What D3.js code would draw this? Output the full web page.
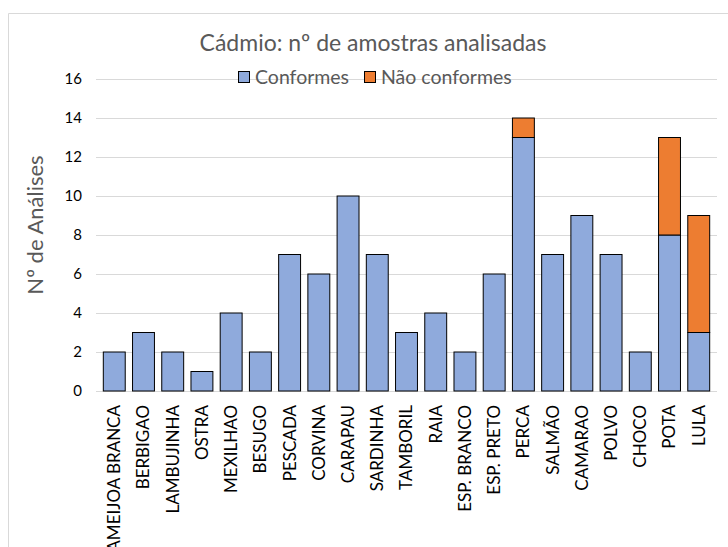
<!DOCTYPE html>
<html><head><meta charset="utf-8">
<script src="https://cdn.jsdelivr.net/npm/d3@7"></script>
<style>body{margin:0;background:#fff}svg{display:block}text{font-family:Lato,"Open Sans",sans-serif}</style>
</head><body>
<svg id="c" width="728" height="547"></svg>
<script>
const categories = ["AMEIJOA BRANCA","BERBIGAO","LAMBUJINHA","OSTRA","MEXILHAO","BESUGO","PESCADA","CORVINA","CARAPAU","SARDINHA","TAMBORIL","RAIA","ESP. BRANCO","ESP. PRETO","PERCA","SALMÃO","CAMARAO","POLVO","CHOCO","POTA","LULA"];
const conformes = [2,3,2,1,4,2,7,6,10,7,3,4,2,6,13,7,9,7,2,8,3];
const naoConformes = [0,0,0,0,0,0,0,0,0,0,0,0,0,0,1,0,0,0,0,5,6];
const seriesNames = ["Conformes","Não conformes"];
const yTicks = [0,2,4,6,8,10,12,14,16];
const title = "Cádmio: nº de amostras analisadas";
const yLabel = "Nº de Análises";

const colors = ["#8FAADC","#ED7D31"];
const svg = d3.select("#c");
// frame
svg.append("path").attr("d","M8.5,560 V13.5 H740").attr("fill","none").attr("stroke","#d9d9d9").attr("stroke-width",1);

const x0 = 96, x1 = 717, yTop = 79, yBot = 391;
const x = d3.scaleBand().domain(categories).range([x0,x1]).padding(0.25);
const y = d3.scaleLinear().domain([0,16]).range([yBot,yTop]);

// gridlines
svg.append("g").selectAll("line").data(yTicks).join("line")
  .attr("x1",x0).attr("x2",x1).attr("y1",d=>Math.round(y(d))+0.5).attr("y2",d=>Math.round(y(d))+0.5)
  .attr("stroke","#d9d9d9").attr("stroke-width",1);

// y tick labels
svg.append("g").selectAll("text").data(yTicks).join("text")
  .attr("x",82).attr("y",d=>y(d)).attr("dy","0.35em").attr("text-anchor","end")
  .attr("font-size",15).attr("fill","#000").text(d=>d);

// stacked bars
const data = categories.map((c,i)=>({c, v:[conformes[i], naoConformes[i]]}));
const stack = d3.stack().keys([0,1]).value((d,k)=>d.v[k]);
const layers = stack(data);
layers.forEach((layer,k)=>{
  svg.append("g").selectAll("rect").data(layer.filter(s=>s[1]>s[0])).join("rect")
    .attr("x",s=>x(s.data.c)).attr("width",x.bandwidth())
    .attr("y",s=>y(s[1])).attr("height",s=>y(s[0])-y(s[1]))
    .attr("fill",colors[k]).attr("stroke","#000").attr("stroke-width",1);
});

// category labels
svg.append("g").selectAll("text").data(categories).join("text")
  .attr("transform",d=>`translate(${x(d)+x.bandwidth()/2},405) rotate(-90)`)
  .attr("dy","0.35em").attr("text-anchor","end").attr("font-size",17).attr("fill","#000").text(d=>d);

// title
svg.append("text").attr("x",373).attr("y",51).attr("text-anchor","middle").attr("font-size",23).attr("fill","#595959").text(title);

// y label
svg.append("text").attr("transform","translate(43,225) rotate(-90)").attr("text-anchor","middle")
  .attr("font-size",22).attr("fill","#595959").text(yLabel);

// legend
const leg = svg.append("g");
const legX = [238,364];
seriesNames.forEach((n,k)=>{
  leg.append("rect").attr("x",legX[k]+0.5).attr("y",71.5).attr("width",11).attr("height",11)
    .attr("fill",colors[k]).attr("stroke","#000").attr("stroke-width",1);
  leg.append("text").attr("x",legX[k]+17).attr("y",84).attr("font-size",19.5).attr("fill","#595959").text(n);
});
</script>
</body></html>
